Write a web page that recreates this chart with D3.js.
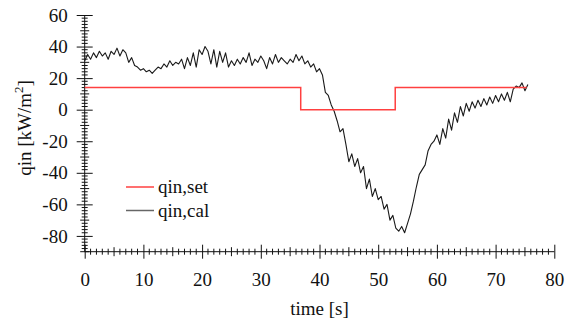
<!DOCTYPE html>
<html><head><meta charset="utf-8">
<script src="https://cdn.jsdelivr.net/npm/d3@7"></script>
<style>
html,body{margin:0;padding:0;background:#fff;}
svg{display:block;}
text{font-family:"Liberation Serif","Times New Roman",serif;fill:#111;}
</style></head>
<body>
<svg id="chart" width="569" height="325"></svg>
<script>
// ---- data ----
const xTickValues = [0,10,20,30,40,50,60,70,80];
const yTickValues = [-80,-60,-40,-20,0,20,40,60];
const seriesNames = ["qin,set","qin,cal"];
const setTime  = [0, 36.8, 36.8, 52.9, 52.9, 75.3];
const setValue = [14, 14, 0, 0, 14, 14];
const calTime = [0,0.5,1,1.5,2,2.5,3,3.5,4,4.5,5,5.5,6,6.5,7,7.5,8,8.5,9,9.5,
 10,10.5,11,11.5,12,12.5,13,13.5,14,14.5,15,15.5,16,16.5,17,17.5,18,18.5,19,19.5,
 20,20.5,21,21.5,22,22.5,23,23.5,24,24.5,25,25.5,26,26.5,27,27.5,28,28.5,29,29.5,
 30,30.5,31,31.5,32,32.5,33,33.5,34,34.5,35,35.5,36,36.5,37,37.5,38,38.5,39,39.5,
 40,40.5,41,41.5,42,42.5,43,43.5,44,44.5,45,45.5,46,46.5,47,47.5,48,48.5,49,49.5,
 50,50.5,51,51.5,52,52.5,53,53.5,54,54.5,55,55.5,56,56.5,57,57.5,58,58.5,59,59.5,
 60,60.5,61,61.5,62,62.5,63,63.5,64,64.5,65,65.5,66,66.5,67,67.5,68,68.5,69,69.5,
 70,70.5,71,71.5,72,72.5,73,73.5,74,74.5,75,75.5];
const calValue = [31,35,32,36,33,37,34,36,32,37,35,39,34,38,36,30,33,28,27,25,
 26,24,25,23,25,27,26,29,27,31,28,30,29,32,26,33,28,36,27,38,
 35,40,37,29,38,27,37,30,36,27,31,28,32,29,33,30,36,28,32,30,
 34,31,26,33,29,35,30,33,31,29,32,30,35,31,34,29,31,27,29,24,
 26,22,11,9,3,-1,-7,-14,-12,-22,-33,-28,-36,-31,-40,-36,-50,-44,-55,-50,
 -57,-55,-63,-60,-70,-67,-75,-77,-74,-78,-72,-66,-58,-49,-41,-38,-35,-26,-22,-20,
 -16,-22,-12,-18,-6,-13,-2,-8,2,-4,4,-1,5,1,6,2,7,3,8,4,
 9,5,10,6,11,5,13,15,14,17,12,16];

// ---- layout ----
const svg = d3.select("#chart");
const x = d3.scaleLinear().domain([0,80]).range([84.7,554.3]);
const y = d3.scaleLinear().domain([-90,60]).range([251.7,15]);
const fs = 19;
const fmt = d => String(d);

// minor/medium ticks
const xMinor = d3.range(0,81,1).filter(v=>v%10!==0);
const yMinor = d3.range(-90,61,2).filter(v=>v%20!==0);

const gx = svg.append("g").attr("transform",`translate(0,${y(-90)})`)
  .call(d3.axisBottom(x).tickValues(xTickValues).tickSize(7).tickPadding(14).tickFormat(fmt));
gx.select(".domain").attr("stroke","#111").attr("d",`M${x(0)},0H${x(80)}`);
gx.selectAll(".tick line").attr("y1",-7).attr("y2",7).attr("stroke","#111");
gx.selectAll(".tick text").attr("font-size",fs).attr("fill","#111");
gx.selectAll(".mt").data(xMinor).enter().append("line")
  .attr("x1",d=>x(d)).attr("x2",d=>x(d))
  .attr("y1",d=>d%5===0?-4.5:-3).attr("y2",d=>d%5===0?4.5:3).attr("stroke","#111");

const gy = svg.append("g").attr("transform",`translate(${x(0)},0)`)
  .call(d3.axisLeft(y).tickValues(yTickValues).tickSize(7).tickPadding(10).tickFormat(fmt));
gy.select(".domain").attr("stroke","#111").attr("d",`M0,${y(60)}V${y(-90)}`);
gy.selectAll(".tick line").attr("x1",-8).attr("x2",8).attr("stroke","#111");
gy.selectAll(".tick text").attr("font-size",fs).attr("fill","#111");
gy.selectAll(".mt").data(yMinor).enter().append("line")
  .attr("y1",d=>y(d)).attr("y2",d=>y(d))
  .attr("x1",d=>d%10===0?-4.5:-3).attr("x2",d=>d%10===0?4.5:3).attr("stroke","#111");

// lines
const line = d3.line().x(d=>x(d[0])).y(d=>y(d[1]));
svg.append("path").datum(calTime.map((t,i)=>[t,calValue[i]]))
  .attr("d",line).attr("fill","none").attr("stroke","#1a1a1a").attr("stroke-width",1.1).attr("stroke-linejoin","round");
svg.append("path").datum(setTime.map((t,i)=>[t,setValue[i]]))
  .attr("d",line).attr("fill","none").attr("stroke","#ff4040").attr("stroke-width",1.5);

// legend
const legColors = ["#ff4040","#666"];
seriesNames.forEach((n,i)=>{
  const ly = 187 + i*23.5;
  svg.append("line").attr("x1",126).attr("x2",154).attr("y1",ly).attr("y2",ly)
    .attr("stroke",legColors[i]).attr("stroke-width",1.5);
  svg.append("text").attr("x",158).attr("y",ly+6).attr("font-size",fs).text(n);
});

// axis titles
svg.append("text").attr("x",x(40)).attr("y",315).attr("text-anchor","middle")
  .attr("font-size",fs).text("time [s]");
const yl = svg.append("text").attr("transform","translate(31,128) rotate(-90)")
  .attr("text-anchor","middle").attr("font-size",fs);
yl.append("tspan").text("qin [kW/m");
yl.append("tspan").attr("dy",-8).attr("font-size",13).text("2");
yl.append("tspan").attr("dy",8).text("]");
</script>
</body></html>
